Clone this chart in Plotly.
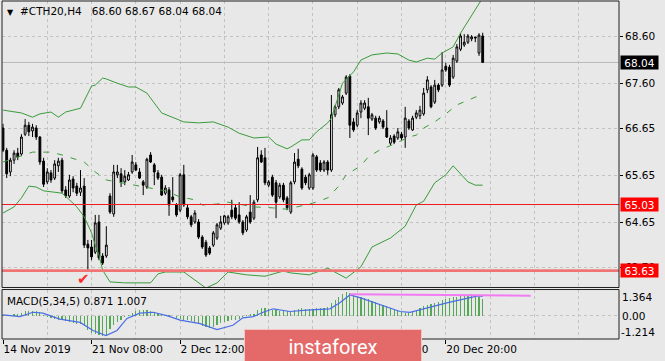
import plotly.graph_objects as go

# ---------------- data ----------------
bar_index = list(range(131))

opens = [66.65, 66.18, 65.72, 65.97, 66.12, 66.10, 66.52, 66.71, 66.59, 66.65,
         66.46, 65.95, 65.51, 65.70, 65.59, 65.85, 65.97, 65.34, 65.21, 65.57,
         65.42, 65.29, 65.42, 64.19, 64.13, 64.02, 64.66, 63.94, 63.94, 65.21,
         64.83, 65.66, 65.68, 65.51, 65.55, 65.72, 65.87, 65.72, 65.51, 65.40,
         66.08, 65.87, 65.70, 65.61, 65.27, 65.34, 65.19, 65.02, 64.91, 65.66,
         64.96, 64.77, 64.66, 64.66, 64.34, 64.23, 64.11, 64.17, 64.32, 64.53,
         64.64, 64.64, 64.91, 64.96, 64.81, 64.66, 64.49, 64.87, 64.74, 65.13,
         66.08, 66.02, 65.44, 65.61, 65.49, 65.19, 65.44, 65.17, 64.87, 65.51,
         65.99, 65.78, 65.61, 65.38, 65.38, 66.04, 65.91, 65.76, 65.93, 65.76,
         66.93, 67.10, 67.18, 67.39, 67.75, 66.78, 66.71, 66.99, 67.07, 67.10,
         66.84, 66.86, 66.78, 66.80, 66.65, 66.33, 66.48, 66.44, 66.52, 66.46,
         66.80, 66.61, 66.88, 66.91, 66.95, 67.46, 67.52, 67.20, 67.56, 67.56,
         67.96, 67.94, 67.73, 68.07, 68.32, 68.41, 68.47, 68.54, 68.58, 68.24,
         68.60]
highs = [66.74, 66.23, 66.02, 66.18, 66.23, 66.52, 66.84, 66.78, 66.74, 66.71,
         66.48, 66.02, 65.80, 65.76, 65.97, 66.02, 66.02, 65.42, 65.66, 65.63,
         65.49, 65.76, 65.59, 64.28, 64.28, 64.81, 64.81, 64.00, 64.57, 65.27,
         65.87, 65.87, 65.80, 65.76, 65.72, 66.08, 65.93, 65.80, 65.55, 66.02,
         66.14, 65.91, 65.76, 65.66, 65.44, 65.40, 65.61, 65.06, 65.70, 65.87,
         65.02, 64.81, 64.91, 64.72, 64.38, 64.28, 64.15, 64.47, 64.64, 64.79,
         64.81, 64.81, 65.13, 65.02, 65.08, 64.70, 64.81, 65.23, 65.13, 66.25,
         66.18, 66.23, 65.55, 65.66, 65.55, 65.49, 65.49, 65.21, 65.53, 66.12,
         66.21, 65.82, 65.66, 65.70, 66.12, 66.08, 65.97, 65.97, 65.97, 67.35,
         67.14, 67.50, 67.35, 67.77, 67.79, 66.86, 67.03, 67.24, 67.24, 67.29,
         66.97, 66.91, 66.91, 66.84, 67.03, 66.50, 66.52, 66.65, 66.57, 67.10,
         66.84, 66.91, 67.03, 67.12, 67.50, 67.75, 67.56, 67.67, 67.60, 68.26,
         68.03, 67.99, 68.20, 68.43, 68.66, 68.64, 68.64, 68.62, 68.58, 68.66,
         68.67]
lows = [66.14, 65.59, 65.63, 65.89, 65.97, 66.06, 66.48, 66.48, 66.46, 66.40,
        65.87, 65.40, 65.46, 65.49, 65.55, 65.72, 65.27, 65.17, 65.17, 65.29,
        65.21, 65.21, 64.11, 63.63, 63.85, 63.98, 63.85, 63.75, 63.90, 64.83,
        64.77, 65.59, 65.40, 65.44, 65.53, 65.68, 65.74, 65.57, 65.23, 65.36,
        65.91, 65.44, 65.55, 65.21, 65.23, 64.79, 65.08, 64.77, 64.87, 64.98,
        64.72, 64.55, 64.62, 64.30, 64.09, 63.92, 63.96, 64.13, 64.28, 64.49,
        64.60, 64.60, 64.72, 64.70, 64.62, 64.38, 64.45, 64.62, 64.70, 65.08,
        65.91, 65.44, 65.40, 65.19, 64.74, 65.15, 65.08, 64.91, 64.83, 65.46,
        65.80, 65.34, 65.44, 65.34, 65.34, 65.72, 65.72, 65.72, 65.66, 65.72,
        66.88, 67.05, 67.14, 67.35, 66.44, 66.57, 66.67, 66.86, 67.03, 66.50,
        66.80, 66.61, 66.74, 66.63, 66.44, 66.29, 66.31, 66.40, 66.40, 66.23,
        66.61, 66.59, 66.84, 66.84, 66.91, 67.39, 67.07, 67.16, 67.41, 67.52,
        67.84, 67.52, 67.69, 68.03, 68.28, 68.37, 68.43, 68.49, 68.47, 68.18,
        68.04]
closes = [66.18, 65.68, 65.97, 66.12, 66.04, 66.46, 66.71, 66.57, 66.67, 66.46,
          65.93, 65.46, 65.72, 65.55, 65.89, 65.95, 65.32, 65.21, 65.55, 65.38,
          65.27, 65.38, 64.17, 64.11, 63.92, 64.64, 63.90, 63.79, 64.17, 64.87,
          65.72, 65.72, 65.51, 65.63, 65.66, 65.93, 65.76, 65.59, 65.44, 65.99,
          65.93, 65.72, 65.59, 65.23, 65.38, 65.02, 65.13, 64.81, 65.66, 65.02,
          64.77, 64.60, 64.85, 64.34, 64.13, 63.96, 64.00, 64.43, 64.60, 64.66,
          64.79, 64.77, 64.77, 64.74, 64.66, 64.43, 64.77, 64.66, 65.08, 66.02,
          65.93, 65.49, 65.51, 65.23, 65.08, 65.44, 65.13, 64.96, 65.49, 65.93,
          65.85, 65.38, 65.49, 65.66, 66.08, 65.76, 65.76, 65.93, 65.76, 66.93,
          67.10, 67.46, 67.31, 67.73, 66.71, 66.61, 66.97, 67.18, 67.18, 66.86,
          66.93, 66.65, 66.86, 66.67, 66.46, 66.44, 66.35, 66.57, 66.44, 66.86,
          66.65, 66.86, 66.97, 67.03, 67.39, 67.67, 67.10, 67.56, 67.46, 67.88,
          67.88, 67.56, 68.13, 68.37, 68.60, 68.47, 68.60, 68.58, 68.56, 68.62,
          68.04]

# Bollinger bands (upper / middle / lower), read at selected bars
upper_idx = [0, 5, 8, 10, 13, 15, 17, 21, 24, 25, 27, 28, 31, 34, 36, 39, 43, 46, 49,
             53, 57, 61, 64, 68, 72, 74, 77, 78, 81, 83, 85, 88, 89, 92, 95, 97, 100,
             104, 107, 110, 112, 115, 117, 119, 122, 124, 127, 130]
upper_band = [67.03, 66.97, 66.88, 66.95, 66.99, 66.88, 66.99, 67.07, 67.54, 67.56,
              67.71, 67.69, 67.60, 67.52, 67.52, 67.39, 66.97, 66.88, 66.78, 66.76,
              66.78, 66.67, 66.54, 66.44, 66.46, 66.31, 66.21, 66.25, 66.40, 66.40,
              66.57, 66.76, 66.86, 67.60, 67.84, 68.09, 68.20, 68.24, 68.22, 68.09,
              68.05, 68.13, 68.11, 68.24, 68.37, 68.66, 69.02, 69.41]
mid_idx = [0, 4, 8, 13, 16, 22, 25, 28, 32, 37, 40, 44, 48, 52, 54, 58, 61, 64, 68,
           73, 77, 84, 88, 91, 93, 97, 99, 102, 106, 110, 112, 114, 117, 120, 123,
           126, 130]
mid_band = [65.93, 66.04, 66.14, 66.14, 66.08, 65.93, 65.72, 65.55, 65.49, 65.42,
            65.38, 65.32, 65.19, 65.13, 65.02, 65.04, 65.08, 65.04, 64.98, 64.96,
            64.93, 65.06, 65.17, 65.42, 65.66, 65.85, 66.04, 66.18, 66.31, 66.46,
            66.50, 66.65, 66.78, 66.95, 67.14, 67.24, 67.37]
lower_idx = [0, 3, 5, 6, 7, 9, 11, 14, 16, 18, 20, 22, 24, 25, 26, 27, 29, 33, 40, 42,
             44, 49, 52, 55, 58, 61, 66, 71, 76, 78, 83, 88, 93, 97, 100, 102, 105,
             109, 112, 114, 117, 120, 122, 126, 128, 130]
lower_band = [64.85, 64.98, 65.17, 65.29, 65.42, 65.40, 65.32, 65.29, 65.27, 65.13,
              64.98, 64.77, 64.43, 64.17, 63.96, 63.64, 63.39, 63.37, 63.37, 63.56,
              63.60, 63.60, 63.43, 63.26, 63.37, 63.60, 63.54, 63.51, 63.62, 63.58,
              63.54, 63.68, 63.47, 63.71, 64.13, 64.21, 64.32, 64.57, 65.02, 65.10,
              65.49, 65.66, 65.85, 65.51, 65.44, 65.44]

# MACD(5,34,5): histogram (main) and signal line
macd_main = [0.05, 0.06, 0.05, 0.08, 0.10,
             0.15, 0.22, 0.25, 0.25, 0.22, 0.18,
             0.05, -0.05, -0.12, -0.18, -0.22,
             -0.25, -0.30, -0.33, -0.38, -0.42, -0.45, -0.55,
             -0.75, -0.90, -0.95, -1.00, -1.05, -1.00,
             -0.70, -0.50, -0.35,
             -0.20, -0.08, 0.05,
             0.15, 0.25, 0.28, 0.30, 0.28,
             0.22, 0.18, 0.12, 0.10, 0.06, 0.02, -0.03,
             -0.10, -0.15, -0.20, -0.25,
             -0.30, -0.38, -0.45, -0.55, -0.60, -0.62, -0.58, -0.50,
             -0.40, -0.35, -0.30, -0.25,
             -0.20, -0.15, -0.08,
             0.05, 0.08, 0.10, 0.30,
             0.38, 0.42, 0.35, 0.30,
             0.28, 0.25, 0.26, 0.22, 0.25,
             0.30, 0.35, 0.38, 0.35, 0.33, 0.36, 0.40, 0.38, 0.40,
             0.45, 0.65, 0.80, 0.95,
             1.15, 1.25, 1.20,
             1.10, 1.00, 0.95, 0.90, 0.85, 0.78, 0.70, 0.62,
             0.55, 0.48, 0.40, 0.32, 0.28,
             0.20, 0.15, 0.15, 0.20,
             0.30, 0.38, 0.50, 0.55, 0.60, 0.65, 0.72,
             0.80, 0.85, 0.90, 0.95, 1.00, 1.05, 1.10,
             1.10, 1.15, 1.10, 1.00, 0.871]
signal_idx = [0, 4.6, 8.1, 10.8, 15.4, 20.9, 24.4, 27.9, 30.9, 33.6, 37.1, 40.7, 44.4,
              48, 53.4, 58, 62.3, 65, 67.8, 70.5, 73.2, 77.8, 82.4, 88.6, 91.3, 94,
              96.7, 102.2, 107.6, 110.3, 114.9, 120.3, 125.7, 128.7, 130]
signal_line = [0.04, -0.05, 0.18, 0.13, -0.18, -0.35, -0.77, -1.04, -0.77, -0.14,
               0.13, 0.18, 0.00, -0.23, -0.41, -0.72, -0.50, -0.11, -0.05, 0.18,
               0.36, 0.22, 0.29, 0.36, 0.67, 1.08, 0.94, 0.58, 0.22, 0.17, 0.40,
               0.67, 0.90, 1.03, 1.007]
divergence_idx = [94, 143]
divergence_val = [1.12, 1.04]

# levels and axis labels
support_level = 65.03
low_level = 63.63
last_price = 68.04
price_ticks = [68.60, 67.60, 66.65, 65.65, 64.65, 63.70]
price_tick_text = ["68.60", "67.60", "66.65", "65.65", "64.65", "63.70"]
time_tick_idx = [0, 24, 48, 72, 96, 120]
time_tick_text = ["14 Nov 2019", "21 Nov 08:00", "2 Dec 12:00", "6 Dec 16:00",
                  "13 Dec 04:00", "20 Dec 20:00"]
grid_idx = [12, 24, 36, 48, 60, 72, 84, 96, 108, 120, 132, 144, 156]
macd_labels = ["1.364", "0.00", "-1.214"]
macd_range = [-1.214, 1.364]
title_text = "#CTH20,H4\u00a0\u00a0 68.60 68.67 68.04 68.04"
macd_text = "MACD(5,34,5) 0.871 1.007"

# ---------------- styling ----------------
BG = "#e8e8e8"
GRID = "#c2c2c2"
GREEN = "#3a9a3a"
FONT = "DejaVu Sans"
FS = 10.5

fig = go.Figure()

fig.add_trace(go.Scatter(x=upper_idx, y=upper_band, mode="lines",
                         line=dict(color=GREEN, width=1), xaxis="x", yaxis="y"))
fig.add_trace(go.Scatter(x=lower_idx, y=lower_band, mode="lines",
                         line=dict(color=GREEN, width=1), xaxis="x", yaxis="y"))
fig.add_trace(go.Scatter(x=mid_idx, y=mid_band, mode="lines",
                         line=dict(color=GREEN, width=1, dash="6px,8px"),
                         xaxis="x", yaxis="y"))
fig.add_trace(go.Candlestick(
    x=bar_index, open=opens, high=highs, low=lows, close=closes,
    increasing=dict(fillcolor="#ffffff", line=dict(color="#000000", width=1)),
    decreasing=dict(fillcolor="#000000", line=dict(color="#000000", width=1)),
    whiskerwidth=0, xaxis="x", yaxis="y"))

fig.add_trace(go.Bar(x=bar_index, y=macd_main, width=0.32,
                     marker=dict(color="#55a855", line=dict(width=0)),
                     xaxis="x", yaxis="y2"))
fig.add_trace(go.Scatter(x=signal_idx, y=signal_line, mode="lines",
                         line=dict(color="#4a6ee6", width=1.2), xaxis="x", yaxis="y2"))
fig.add_trace(go.Scatter(x=divergence_idx, y=divergence_val, mode="lines",
                         line=dict(color="#f27af2", width=2), xaxis="x", yaxis="y2"))

MAIN_DOM = [0.1524, 1.0]
MACD_DOM = [0.0, 0.1464]

shapes = [
    dict(type="line", xref="paper", x0=0, x1=1, yref="y", y0=last_price, y1=last_price,
         line=dict(color="#b9b9b9", width=1), layer="below"),
    dict(type="line", xref="paper", x0=0, x1=1, yref="y", y0=support_level, y1=support_level,
         line=dict(color="#ee1c1c", width=1.2), layer="above"),
    dict(type="line", xref="paper", x0=0, x1=1, yref="y", y0=low_level, y1=low_level,
         line=dict(color="#ef7474", width=2.6), layer="above"),
    dict(type="rect", xref="paper", yref="paper", x0=0, x1=1, y0=MAIN_DOM[0], y1=MAIN_DOM[1],
         line=dict(color="#202020", width=1), fillcolor="rgba(0,0,0,0)", layer="above"),
    dict(type="rect", xref="paper", yref="paper", x0=0, x1=1, y0=MACD_DOM[0], y1=MACD_DOM[1],
         line=dict(color="#202020", width=1), fillcolor="rgba(0,0,0,0)", layer="above"),
]

def box_label(text, price, bg):
    return dict(text=text, xref="paper", x=1, xanchor="left", xshift=1,
                yref="y", y=price, yanchor="middle", showarrow=False,
                bgcolor=bg, width=37, height=13, borderpad=0,
                font=dict(family=FONT, size=FS, color="#ffffff"))

annotations = [
    dict(text="\u25bc", xref="paper", x=0, xanchor="center", xshift=8.5,
         yref="paper", y=0.967, yanchor="middle", showarrow=False,
         font=dict(family=FONT, size=8, color="#000000")),
    dict(text=title_text, xref="paper", x=0, xanchor="left", xshift=16,
         yref="paper", y=0.969, yanchor="middle", showarrow=False,
         font=dict(family=FONT, size=FS, color="#000000")),
    dict(text=macd_text, xref="paper", x=0, xanchor="left", xshift=3,
         yref="paper", y=0.1124, yanchor="middle", showarrow=False,
         font=dict(family=FONT, size=FS, color="#000000")),
    dict(text=macd_labels[0], xref="paper", x=1, xanchor="left", xshift=2,
         yref="y2", y=macd_range[1], yanchor="top", showarrow=False, borderpad=0,
         font=dict(family=FONT, size=FS, color="#000000")),
    dict(text=macd_labels[1], xref="paper", x=1, xanchor="left", xshift=2,
         yref="y2", y=0, yanchor="middle", showarrow=False, borderpad=0,
         font=dict(family=FONT, size=FS, color="#000000")),
    dict(text=macd_labels[2], xref="paper", x=1, xanchor="left", xshift=1,
         yref="y2", y=macd_range[0], yanchor="bottom", showarrow=False, borderpad=0,
         font=dict(family=FONT, size=FS, color="#000000")),
    box_label(f"{last_price:.2f}", last_price, "#000000"),
    box_label(f"{support_level:.2f}", support_level, "#ff0000"),
    box_label(f"{low_level:.2f}", low_level, "#ff0000"),
    dict(text="\u2714", xref="x", x=21.7, yref="y", y=63.45, showarrow=False,
         font=dict(family=FONT, size=15, color="#ff2a2a")),
    dict(text="instaforex", xref="paper", x=0.5365, xanchor="center",
         yref="paper", y=-0.0236, yanchor="middle", showarrow=False,
         width=176, height=33, bgcolor="#e46a6a", bordercolor="#f3c4c4",
         borderwidth=1, borderpad=0,
         font=dict(family="Roboto", size=20, color="#ffffff")),
]

fig.update_layout(
    width=665, height=361,
    margin=dict(l=2, r=46, t=1, b=22, pad=0),
    paper_bgcolor=BG, plot_bgcolor=BG,
    showlegend=False,
    hovermode=False,
    font=dict(family=FONT, size=FS, color="#000000"),
    bargap=0,
    xaxis=dict(domain=[0, 1], anchor="y2", range=[-0.27, 166.94],
               tickmode="array", tickvals=time_tick_idx, ticktext=time_tick_text,
               ticks="outside", ticklen=4, tickcolor="#000000",
               ticklabelposition="outside right",
               showgrid=False, zeroline=False, showline=False,
               rangeslider=dict(visible=False),
               minor=dict(tickmode="array", tickvals=grid_idx, showgrid=True,
                          gridcolor=GRID, griddash="3px,3px", gridwidth=1, ticks="")),
    yaxis=dict(domain=MAIN_DOM, anchor="x", side="right", range=[63.272, 69.342],
               tickmode="array", tickvals=price_ticks, ticktext=price_tick_text,
               ticks="outside", ticklen=3, tickcolor="#000000",
               showgrid=True, gridcolor=GRID, griddash="3px,3px", gridwidth=1,
               zeroline=False, showline=False),
    yaxis2=dict(domain=MACD_DOM, anchor="x", side="right", range=macd_range,
                tickmode="array", tickvals=[0], showticklabels=False, ticks="",
                showgrid=True, gridcolor=GRID, griddash="3px,3px", gridwidth=1,
                zeroline=False, showline=False),
    shapes=shapes,
    annotations=annotations,
)

fig.write_html(
    "out.html",
    config={"displayModeBar": False, "staticPlot": True},
    post_script="document.body.style.margin='0px';document.body.style.overflow='hidden';",
)
